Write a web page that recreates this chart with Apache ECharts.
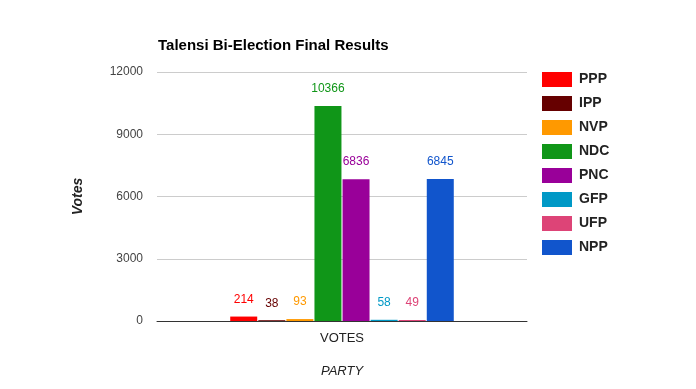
<!DOCTYPE html>
<html><head><meta charset="utf-8">
<script src="https://cdn.jsdelivr.net/npm/echarts@6/dist/echarts.min.js"></script>
<style>html,body{margin:0;padding:0;background:#fff}#c{width:696px;height:389px}</style>
</head><body><div id="c"></div>
<script>
const categories = ['VOTES'];
const parties = ['PPP','IPP','NVP','NDC','PNC','GFP','UFP','NPP'];
const votes = [214, 38, 93, 10366, 6836, 58, 49, 6845];
const colors = ['#ff0000','#660000','#ff9900','#109618','#990099','#0099c6','#dd4477','#1155cc'];
const yTicks = {min:0, max:12000, interval:3000};

const chart = echarts.init(document.getElementById('c'), null, {renderer:'canvas'});
const font = 'Arial, "Liberation Sans", sans-serif';
chart.setOption({
  animation:false,
  textStyle:{fontFamily:font},
  title:{text:'Talensi Bi-Election Final Results', left:153, top:33,
    textStyle:{fontFamily:font, fontSize:15, fontWeight:'bold', color:'#000'}},
  legend:{orient:'vertical', left:537, top:67, itemWidth:30, itemHeight:15, itemGap:9,
    icon:'rect', data:parties,
    textStyle:{fontFamily:font, fontSize:14, fontWeight:'bold', color:'#222', padding:[0,0,0,2]}},
  grid:{left:157, right:169, top:72, bottom:68},
  xAxis:{type:'category', data:categories,
    name:'PARTY', nameLocation:'middle', nameGap:44,
    nameTextStyle:{fontFamily:font, fontSize:13, fontStyle:'italic', color:'#222'},
    axisLine:{lineStyle:{color:'#333', width:1}}, axisTick:{show:false},
    axisLabel:{fontFamily:font, fontSize:13, color:'#222', margin:11}},
  yAxis:{type:'value', min:yTicks.min, max:yTicks.max, interval:yTicks.interval,
    name:'Votes', nameLocation:'middle', nameGap:72, nameRotate:90,
    nameTextStyle:{fontFamily:font, fontSize:14, fontStyle:'italic', fontWeight:'bold', color:'#222'},
    axisLine:{show:false}, axisTick:{show:false},
    axisLabel:{fontFamily:font, fontSize:12, color:'#444', margin:14, formatter:v=>String(v)},
    splitLine:{lineStyle:{color:'#cccccc'}}},
  series: parties.map((p,i)=>({
    name:p, type:'bar', data:[votes[i]], barWidth:27, barGap:'4%',
    itemStyle:{color:colors[i]},
    label:{show:true, position:'top', distance:11, color:colors[i], fontFamily:font, fontSize:12}
  }))
});
</script></body></html>
